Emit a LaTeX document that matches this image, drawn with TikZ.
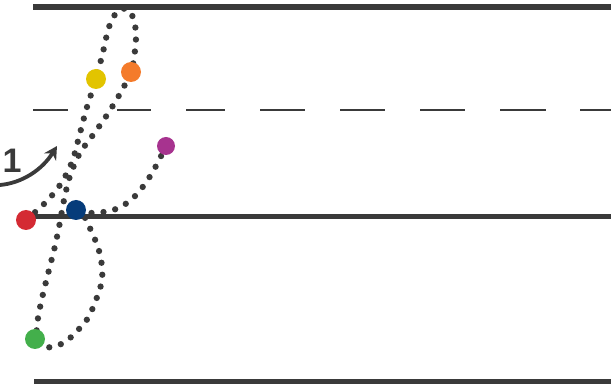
\documentclass[tikz,border=0pt]{standalone}
\usepackage{fontspec}
\setmainfont{Liberation Sans}
\usetikzlibrary{arrows.meta}
\definecolor{ink}{HTML}{3A3A3A}
\definecolor{cred}{HTML}{D42A33}
\definecolor{cblue}{HTML}{063C7A}
\definecolor{cyellow}{HTML}{E2C400}
\definecolor{corange}{HTML}{F47B2B}
\definecolor{cpurple}{HTML}{A7338F}
\definecolor{cgreen}{HTML}{43AF4B}
\tikzset{
  lane/.style={ink, line width=5.5pt},
  lanedash/.style={ink, line width=2.4pt},
  trail/.style={ink, line width=6.3pt, line cap=round, dash pattern=on 0pt off 12pt},
  key/.style={circle, inner sep=0pt, minimum size=20pt, fill=#1},
  turnarrow/.style={ink, line width=3.8pt, -{Stealth[length=13pt,width=14pt]}},
}
\begin{document}
\begin{tikzpicture}[x=1pt,y=-1pt]
\useasboundingbox (0,0) rectangle (611,387);
% lane lines
\draw[lane] (33,7) -- (611,7);
\draw[lane] (26,216.5) -- (611,216.5);
\draw[lane] (34,381.5) -- (611,381.5);
% dashed centre line
\foreach \a/\b in {33/68,117/151,186/225,260/305,340/385,420/465,500/546,580/611}
  \draw[lanedash] (\a,110) -- (\b,110);
% key positions
\coordinate (pR) at (26,220);
\coordinate (pY) at (96,79);
\coordinate (pO) at (131,72);
\coordinate (pB) at (76,210);
\coordinate (pP) at (166,146);
\coordinate (pG) at (35,339);
% trajectory
\draw[trail] plot[smooth, tension=0.55] coordinates {
  (26,220) (45,203) (60,185) (72,162) (80,133) (87,107) (96,79)
  (103,52) (109,27) (117,12) (127,9) (134,20) (136,38) (134,58) (131,72)
  (121,92) (107,115) (93,135) (80,153) (70,176) (64,200) (60,222)
  (55,246) (49,270) (43,294) (38,318) (37,336) (45,347) (59,345) (70,338)
  (79,329) (88,318) (96,300) (102,280) (101,259) (96,242) (89,226) (84,214)
  (92,213) (104,212) (116,209) (127,203) (137,194) (147,181) (156,166) (166,146)
};
% key dots
\node[key=cred] (red) at (pR) {};
\node[key=cyellow] (yellow) at (pY) {};
\node[key=corange] (orange) at (pO) {};
\node[key=cblue] (blue) at (pB) {};
\node[key=cpurple, minimum size=18pt] (purple) at (pP) {};
\node[key=cgreen] (green) at (pG) {};
% start arrow
\coordinate (a0) at (0,185);
\coordinate (a1) at (57,146);
\draw[turnarrow] (a0) .. controls (22,183) and (42,170) .. (a1);
\node[ink, font=\fontsize{34}{34}\selectfont\bfseries, inner sep=0pt] (one) at (12,161) {1};
\end{tikzpicture}
\end{document}
